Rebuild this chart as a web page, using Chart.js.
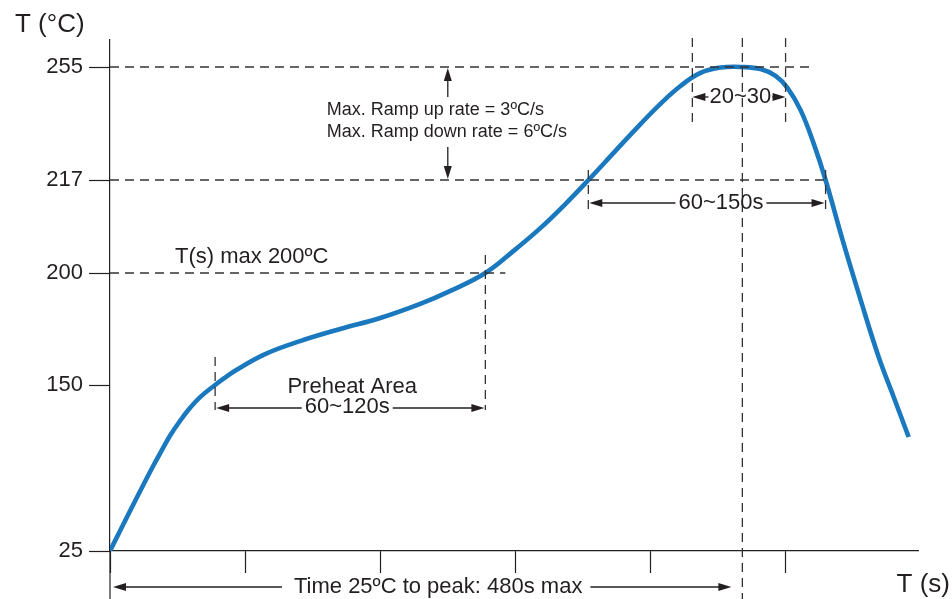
<!DOCTYPE html>
<html lang="en">
<head>
<meta charset="UTF-8">
<title>Reflow profile</title>
<script src="https://cdn.jsdelivr.net/npm/chart.js"></script>
<style>
    html, body { margin: 0; padding: 0; background: #fff; }
    #wrap { width: 952px; height: 599px; position: relative; }
</style>
</head>
<body>
<div id="wrap"><canvas id="grafico"></canvas></div>
<script>
    // curve: time (s) / temperature (°C)
    var tempos = [0, 14.8, 29.6, 37.0, 44.4, 51.9, 59.3, 66.7, 77.8, 85.2, 92.6, 114.8, 140.7, 170.4, 200, 229.6, 251.9, 277.8, 298.5, 318.5, 337, 354.1, 374.1, 392.6, 407.4, 422.2, 437, 451.9, 468.1, 481.5, 492.6, 501.5, 511.1, 520.7, 529.6, 542.2, 555.6, 568.9, 580, 591.1];
    var temperaturas = [25, 55.1, 84.5, 98.4, 111.8, 123.1, 132.8, 140.9, 150, 153.3, 156.4, 163.8, 169.6, 175.0, 179.9, 186.2, 192.0, 200, 204.0, 208.2, 212.6, 217, 226.8, 235.8, 242.6, 248.6, 253.0, 254.8, 255, 254.3, 252.0, 247.9, 240.5, 229.4, 217, 206.0, 187.9, 162.5, 141.0, 110.8];

    var yTicks = [25, 150, 200, 217, 255];
    var xTicks = [0, 100, 200, 300, 400, 500];

    // marked times on the profile (s)
    var tPreheat = 77.8, tSoakFim = 277.8, tLiqIni = 354, tLiqFim = 529.6;
    var tPicoIni = 431, tPico = 468, tPicoFim = 500, tRampa = 250;

    // the temperature axis is not linear: spacing of the tick rows
    var yEscala = [0, 166, 278, 371, 484];
    var yTopo = 511;

    function posY(t) {
        var i = 0;
        while (i < yTicks.length - 2 && t > yTicks[i + 1]) i++;
        var f = (t - yTicks[i]) / (yTicks[i + 1] - yTicks[i]);
        return yEscala[i] + f * (yEscala[i + 1] - yEscala[i]);
    }

    var fonte = "'Liberation Sans', Arial, sans-serif";
    var corTexto = '#231f20';

    var pontos = tempos.map(function (t, i) { return { x: t, y: posY(temperaturas[i]) }; });

    var anotacoes = {
        id: 'anotacoes',
        afterDraw: function (chart) {
            var ctx = chart.ctx;
            var sx = chart.scales.x, sy = chart.scales.y;
            var area = chart.chartArea;
            function X(t) { return sx.getPixelForValue(t); }
            function Y(t) { return sy.getPixelForValue(posY(t)); }

            function tracejado(x1, y1, x2, y2) {
                ctx.save();
                ctx.strokeStyle = '#333';
                ctx.lineWidth = 1.3;
                ctx.setLineDash([9, 6]);
                ctx.beginPath();
                ctx.moveTo(x1, y1);
                ctx.lineTo(x2, y2);
                ctx.stroke();
                ctx.restore();
            }
            function seta(x1, y1, x2, y2) {
                var ang = Math.atan2(y2 - y1, x2 - x1);
                ctx.save();
                ctx.strokeStyle = corTexto;
                ctx.fillStyle = corTexto;
                ctx.lineWidth = 1.3;
                ctx.beginPath();
                ctx.moveTo(x1, y1);
                ctx.lineTo(x2 - 8 * Math.cos(ang), y2 - 8 * Math.sin(ang));
                ctx.stroke();
                ctx.translate(x2, y2);
                ctx.rotate(ang);
                ctx.beginPath();
                ctx.moveTo(0, 0);
                ctx.lineTo(-13, -4);
                ctx.lineTo(-13, 4);
                ctx.closePath();
                ctx.fill();
                ctx.restore();
            }
            function texto(s, x, y, tam, alinha) {
                ctx.save();
                ctx.fillStyle = corTexto;
                ctx.font = tam + 'px ' + fonte;
                ctx.textAlign = alinha || 'center';
                ctx.textBaseline = 'middle';
                ctx.fillText(s, x, y);
                var w = ctx.measureText(s).width;
                ctx.restore();
                return w;
            }

            // y axis runs on below the time axis
            ctx.save();
            ctx.strokeStyle = corTexto;
            ctx.lineWidth = 1.2;
            ctx.beginPath();
            ctx.moveTo(area.left, area.bottom);
            ctx.lineTo(area.left, chart.height);
            ctx.stroke();
            ctx.restore();

            // horizontal guides
            tracejado(area.left, Y(255), X(tPicoFim) + 28, Y(255));
            tracejado(area.left, Y(217), X(tLiqFim), Y(217));
            tracejado(area.left, Y(200), X(tSoakFim) + 20, Y(200));

            // vertical guides
            var yPre = Y(150) + 23;
            tracejado(X(tPreheat), Y(150) - 28, X(tPreheat), yPre + 2);
            tracejado(X(tSoakFim), Y(200) - 18, X(tSoakFim), yPre + 2);
            tracejado(X(tLiqIni), Y(217) - 10, X(tLiqIni), Y(217) + 32);
            tracejado(X(tLiqFim), Y(217) - 10, X(tLiqFim), Y(217) + 32);
            tracejado(X(tPicoIni), area.top - 2, X(tPicoIni), Y(255) + 56);
            tracejado(X(tPicoFim), area.top - 2, X(tPicoFim), Y(255) + 56);
            tracejado(X(tPico), area.top - 2, X(tPico), chart.height);

            // ramp rate note
            var xr = X(tRampa);
            seta(xr, Y(255) + 30, xr, Y(255) + 1);
            seta(xr, Y(217) - 33, xr, Y(217) - 1);
            texto('Max. Ramp up rate = 3ºC/s', xr - 121, Y(255) + 43, 18, 'left');
            texto('Max. Ramp down rate = 6ºC/s', xr - 121, Y(255) + 65, 18, 'left');

            // 20~30 at peak
            var yp = Y(255) + 30;
            var cp = X(tPico) - 2;
            var w = texto('20~30', cp, yp, 22);
            seta(cp - w / 2 - 1, yp, X(tPicoIni), yp);
            seta(cp + w / 2 + 1, yp, X(tPicoFim), yp);

            // time above liquidus
            var yl = Y(217) + 23;
            var cl = (X(tLiqIni) + X(tLiqFim)) / 2 + 14;
            w = texto('60~150s', cl, yl, 22);
            seta(cl - w / 2 - 3, yl, X(tLiqIni) + 1, yl);
            seta(cl + w / 2 + 3, yl, X(tLiqFim) - 1, yl);

            // preheat
            texto('T(s) max 200ºC', area.left + 65, Y(200) - 16, 22, 'left');
            var cpre = (X(tPreheat) + X(tSoakFim)) / 2 - 3;
            texto('Preheat Area', cpre + 5, yPre - 21, 22);
            w = texto('60~120s', cpre, yPre - 1, 22);
            seta(cpre - w / 2 - 3, yPre, X(tPreheat) + 1, yPre);
            seta(cpre + w / 2 + 3, yPre, X(tSoakFim) - 1, yPre);

            // time to peak
            var yt = chart.height - 12;
            var ct = (area.left + X(tPico)) / 2 + 12;
            w = texto('Time 25ºC to peak: 480s max', ct, yt, 22);
            seta(ct - w / 2 - 12, yt, area.left + 3, yt);
            seta(ct + w / 2 + 8, yt, X(tPico) - 11, yt);

            // axis titles
            texto('T (°C)', 15, 25, 26, 'left');
            texto('T (s)', chart.width - 2, yt - 2, 26, 'right');
        }
    };

    var ctx = document.getElementById('grafico').getContext('2d');
    var grafico = new Chart(ctx, {
        type: 'line',
        data: {
            datasets: [{
                data: pontos,
                borderColor: '#1a79be',
                borderWidth: 4.6,
                pointRadius: 0,
                fill: false,
                tension: 0.4
            }]
        },
        options: {
            responsive: true,
            maintainAspectRatio: false,
            animation: false,
            layout: { padding: { top: 40, right: 34, left: 0, bottom: 0 } },
            plugins: { legend: { display: false }, tooltip: { enabled: false } },
            scales: {
                x: {
                    type: 'linear',
                    min: 0,
                    max: 598,
                    afterBuildTicks: function (s) { s.ticks = xTicks.map(function (v) { return { value: v }; }); },
                    afterFit: function (s) { s.height = 48; },
                    ticks: { autoSkip: false, callback: function () { return ''; } },
                    grid: { drawOnChartArea: false, tickLength: 22, tickColor: corTexto, tickWidth: 1.2 },
                    border: { color: corTexto, width: 1.2 }
                },
                y: {
                    type: 'linear',
                    min: 0,
                    max: yTopo,
                    afterBuildTicks: function (s) { s.ticks = yTicks.map(function (v) { return { value: posY(v) }; }); },
                    afterFit: function (s) { s.width = 110; },
                    ticks: {
                        autoSkip: false,
                        padding: 6,
                        color: corTexto,
                        font: { family: fonte, size: 22 },
                        callback: function (v, i) { return String(yTicks[i]); }
                    },
                    grid: { drawOnChartArea: false, tickLength: 21, tickColor: corTexto, tickWidth: 1.2 },
                    border: { color: corTexto, width: 1.2 }
                }
            }
        },
        plugins: [anotacoes]
    });
</script>
</body>
</html>
